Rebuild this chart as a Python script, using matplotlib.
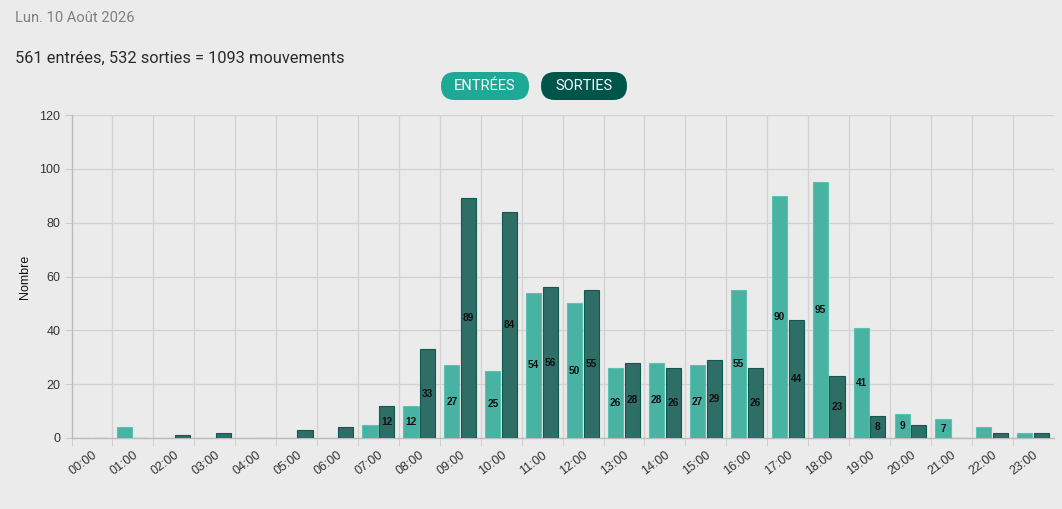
import matplotlib
matplotlib.use("Agg")
import matplotlib.pyplot as plt
from matplotlib.patches import FancyBboxPatch
import numpy as np

hours = [f"{h:02d}:00" for h in range(24)]
entrees = [0, 4, 0, 0, 0, 0, 0, 5, 12, 27, 25, 54, 50, 26, 28, 27, 55, 90, 95, 41, 9, 7, 4, 2]
sorties = [0, 0, 1, 2, 0, 3, 4, 12, 33, 89, 84, 56, 55, 28, 26, 29, 26, 44, 23, 8, 5, 0, 2, 2]
date_text = "Lun. 10 Août 2026"
summary_text = "561 entrées, 532 sorties = 1093 mouvements"
legend_labels = ["ENTRÉES", "SORTIES"]
y_label = "Nombre"
y_ticks = [0, 20, 40, 60, 80, 100, 120]

BG = "#ebebeb"
C_ENT = "#48b3a3"
C_ENT_EDGE = "#5cc2b2"
C_SOR = "#2f6e67"
C_SOR_EDGE = "#0f5a50"
BTN_ENT = "#1ea896"
BTN_SOR = "#00554b"

plt.rcParams['font.family'] = ['Liberation Sans', 'DejaVu Sans']

W, H = 1062, 509
fig = plt.figure(figsize=(W / 100, H / 100), dpi=100, facecolor=BG)

x0, x1 = 71.5, 1053.7
y0, y1 = 438.0, 115.0
ax = fig.add_axes([x0 / W, 1 - y0 / H, (x1 - x0) / W, (y0 - y1) / H])
ax.set_facecolor(BG)

x = np.arange(len(hours))
bw = 0.37
off = 0.205
ax.bar(x - off, entrees, bw, color=C_ENT, edgecolor=C_ENT_EDGE, linewidth=0.8, zorder=3)
ax.bar(x + off, sorties, bw, color=C_SOR, edgecolor=C_SOR_EDGE, linewidth=0.8, zorder=3)

for xs, vals in ((x - off, entrees), (x + off, sorties)):
    for xi, v in zip(xs, vals):
        if v >= 7:
            ax.text(xi, v / 2, str(v), ha="center", va="center", fontsize=7.3,
                    fontweight="bold", color="#111111", zorder=4)

ax.set_xlim(-0.5, len(hours) - 0.5)
ax.set_ylim(0, 120)
ax.set_yticks(y_ticks)
ax.set_yticklabels([str(t) for t in y_ticks], fontsize=9, color="#333333")

# grid
for t in y_ticks[1:]:
    ax.axhline(t, color="#d2d2d2", linewidth=0.9, zorder=1)
for k in range(1, len(hours)):
    ax.axvline(k - 0.5, color="#d2d2d2", linewidth=0.9, zorder=1)

ax.set_xticks(x)
ax.set_xticklabels(hours, rotation=37, ha="right", rotation_mode="anchor",
                   fontsize=9, color="#333333")
ax.tick_params(axis="x", length=0, pad=8)
ax.tick_params(axis="y", length=5, color="#cccccc", pad=3)

ax.set_xticks(np.arange(-0.5, len(hours) - 0.5, 1), minor=True)
ax.tick_params(axis="x", which="minor", length=6, color="#cccccc")

for s in ["top", "right"]:
    ax.spines[s].set_visible(False)
for s in ["left", "bottom"]:
    ax.spines[s].set_color("#bbbbbb")
    ax.spines[s].set_linewidth(1.0)

ax.set_ylabel(y_label, fontsize=9, color="#111111", labelpad=6)

# header texts
fig.text(15 / W, 1 - 18 / H, date_text, fontsize=10.6, color="#808080",
         ha="left", va="center", family=["Roboto", "DejaVu Sans"])
fig.text(15 / W, 1 - 58 / H, summary_text, fontsize=11.8, color="#2a2a2a",
         ha="left", va="center", family=["Roboto", "DejaVu Sans"])

# legend buttons
def button(cx, cy, w, h, color, label):
    r = h / 2
    p = FancyBboxPatch(((cx - w / 2) / W, 1 - (cy + h / 2) / H), w / W, h / H,
                       boxstyle=f"round,pad=0,rounding_size={r / W}",
                       transform=fig.transFigure, facecolor=color,
                       edgecolor="none", mutation_aspect=W / H)
    fig.patches.append(p)
    fig.text(cx / W, 1 - cy / H, label, color="white", fontsize=10.5,
             ha="center", va="center", family=["Roboto", "DejaVu Sans"])

button(485, 86, 88, 28, BTN_ENT, legend_labels[0])
button(584, 86, 86, 28, BTN_SOR, legend_labels[1])

fig.savefig("out.png", dpi=100, facecolor=BG)
